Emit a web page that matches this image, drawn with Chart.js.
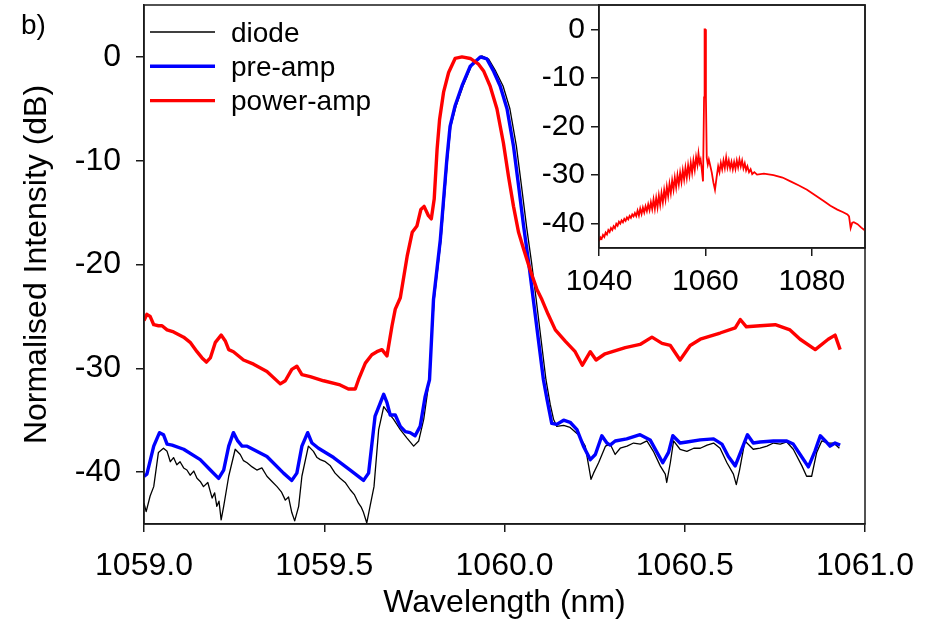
<!DOCTYPE html>
<html>
<head>
<meta charset="utf-8">
<script src="https://cdn.jsdelivr.net/npm/chart.js@4.4.1/dist/chart.umd.min.js"></script>
<style>
  html, body { margin: 0; padding: 0; background: #fff; }
  #wrap { position: relative; width: 929px; height: 622px; }
  #main { position: absolute; left: 0; top: 0; }
  #inset { position: absolute; left: 520px; top: 0; }
</style>
</head>
<body>
<div id="wrap">
  <canvas id="main" width="929" height="622"></canvas>
  <canvas id="inset" width="380" height="320"></canvas>
</div>
<script>
// ---- main panel data (wavelength nm, intensity dB) ----
const xTicks = [1059.0, 1059.5, 1060.0, 1060.5, 1061.0];
const yTicks = [-40, -30, -20, -10, 0];

const diodeWl = [1059.000, 1059.006, 1059.017, 1059.027, 1059.040, 1059.054, 1059.064, 1059.073, 1059.082, 1059.091, 1059.100, 1059.110,
  1059.119, 1059.128, 1059.138, 1059.147, 1059.156, 1059.165, 1059.177, 1059.189, 1059.196, 1059.202, 1059.208, 1059.214, 1059.221,
  1059.235, 1059.253, 1059.267, 1059.276, 1059.286, 1059.300, 1059.313, 1059.327, 1059.341, 1059.355, 1059.369, 1059.381, 1059.392,
  1059.401, 1059.410, 1059.418, 1059.429, 1059.438, 1059.456, 1059.470, 1059.480, 1059.489, 1059.503, 1059.517, 1059.530, 1059.544,
  1059.558, 1059.572, 1059.584, 1059.595, 1059.603, 1059.609, 1059.618, 1059.627, 1059.638, 1059.651, 1059.665, 1059.678, 1059.692,
  1059.711, 1059.729, 1059.748, 1059.762, 1059.776, 1059.789, 1059.805, 1059.824, 1059.842, 1059.851, 1059.866, 1059.885, 1059.908,
  1059.937, 1059.956, 1059.976, 1059.996, 1060.015, 1060.033, 1060.047, 1060.061, 1060.075, 1060.088, 1060.115, 1060.127, 1060.136,
  1060.145, 1060.164, 1060.182, 1060.205, 1060.224, 1060.233, 1060.240, 1060.247, 1060.261, 1060.280, 1060.293, 1060.307, 1060.321,
  1060.340, 1060.358, 1060.377, 1060.395, 1060.413, 1060.432, 1060.446, 1060.450, 1060.460, 1060.469, 1060.487, 1060.506, 1060.525,
  1060.543, 1060.562, 1060.580, 1060.598, 1060.617, 1060.635, 1060.643, 1060.652, 1060.667, 1060.690, 1060.709, 1060.728, 1060.746,
  1060.765, 1060.783, 1060.801, 1060.825, 1060.838, 1060.852, 1060.866, 1060.880, 1060.898, 1060.913, 1060.929];
const diodeDb = [-43.0, -43.8, -42.3, -41.4, -38.1, -37.7, -38.0, -39.0, -38.6, -39.3, -39.0, -39.6,
  -39.8, -40.3, -39.9, -40.6, -40.9, -41.4, -41.0, -42.5, -42.0, -43.3, -42.8, -44.6, -43.3,
  -40.4, -37.8, -38.3, -38.9, -39.1, -39.5, -39.8, -39.6, -40.4, -40.9, -41.4, -41.9, -42.7,
  -42.4, -43.9, -44.7, -43.3, -40.4, -37.5, -38.0, -38.6, -38.8, -39.0, -39.4, -40.1, -40.6,
  -41.0, -41.7, -42.2, -43.0, -43.4, -43.9, -44.9, -43.3, -41.4, -35.9, -33.7, -34.3, -34.9,
  -35.9, -36.7, -37.5, -37.0, -34.9, -31.7, -23.4, -17.6, -9.9, -6.7, -4.7, -2.8, -0.9,
  0.1, -0.2, -1.4, -2.8, -5.0, -8.6, -12.4, -16.3, -19.8, -23.4, -31.1, -33.5, -34.9,
  -35.6, -35.5, -35.7, -36.4, -37.5, -39.3, -40.7, -40.1, -39.1, -37.5, -37.3, -38.3, -37.7,
  -37.5, -37.2, -37.3, -37.0, -38.0, -39.4, -40.2, -41.0, -39.1, -37.0, -37.8, -38.0, -37.7,
  -37.7, -37.4, -37.2, -37.7, -39.1, -40.2, -41.2, -39.8, -37.0, -37.8, -37.7, -37.5, -37.2,
  -37.3, -37.1, -37.8, -39.4, -40.4, -40.4, -38.1, -37.0, -37.2, -37.2, -37.7];

const preAmpWl = [1059.000, 1059.008, 1059.027, 1059.043, 1059.054, 1059.064, 1059.078, 1059.110, 1059.156, 1059.184, 1059.207,
  1059.221, 1059.235, 1059.248, 1059.260, 1059.272, 1059.286, 1059.341, 1059.387, 1059.410, 1059.424, 1059.438, 1059.454,
  1059.466, 1059.484, 1059.526, 1059.572, 1059.609, 1059.623, 1059.641, 1059.665, 1059.674, 1059.683, 1059.697, 1059.711,
  1059.725, 1059.738, 1059.752, 1059.766, 1059.780, 1059.792, 1059.803, 1059.822, 1059.840, 1059.849, 1059.863, 1059.882,
  1059.905, 1059.933, 1059.951, 1059.970, 1059.988, 1060.007, 1060.025, 1060.039, 1060.053, 1060.067, 1060.080, 1060.108,
  1060.118, 1060.131, 1060.145, 1060.164, 1060.182, 1060.201, 1060.219, 1060.238, 1060.252, 1060.270, 1060.284, 1060.293,
  1060.307, 1060.339, 1060.376, 1060.404, 1060.423, 1060.439, 1060.455, 1060.467, 1060.487, 1060.506, 1060.543, 1060.580,
  1060.603, 1060.621, 1060.640, 1060.658, 1060.674, 1060.690, 1060.709, 1060.746, 1060.783, 1060.801, 1060.820, 1060.843,
  1060.861, 1060.876, 1060.890, 1060.903, 1060.917, 1060.931];
const preAmpDb = [-40.4, -40.2, -37.5, -36.2, -36.4, -37.3, -37.4, -37.8, -38.8, -39.8, -40.6,
  -39.8, -37.5, -36.2, -37.0, -37.5, -37.5, -38.5, -40.1, -40.8, -40.1, -37.5, -36.2,
  -37.2, -37.7, -38.6, -39.8, -40.8, -40.1, -34.6, -32.5, -33.3, -34.5, -34.5, -35.6,
  -36.1, -36.2, -36.5, -35.6, -32.7, -31.1, -23.4, -17.6, -9.9, -6.7, -4.7, -2.8,
  -0.9, 0.0, -0.2, -1.4, -2.8, -5.0, -8.6, -12.4, -16.3, -19.8, -23.4, -31.1,
  -33.0, -35.3, -35.4, -35.0, -35.2, -35.9, -37.5, -38.8, -38.3, -36.5, -37.2, -37.4,
  -37.0, -36.8, -36.4, -36.9, -38.1, -39.1, -38.1, -36.5, -37.2, -37.1, -36.9, -36.8,
  -37.3, -38.5, -39.4, -37.8, -36.4, -37.2, -37.1, -37.0, -37.0, -37.3, -38.3, -39.5,
  -38.0, -36.5, -37.0, -37.5, -37.2, -37.4];

const powerAmpWl = [1059.000, 1059.008, 1059.017, 1059.027, 1059.040, 1059.050, 1059.064, 1059.082, 1059.110, 1059.128, 1059.147,
  1059.161, 1059.173, 1059.184, 1059.198, 1059.214, 1059.226, 1059.235, 1059.248, 1059.276, 1059.304, 1059.341, 1059.378,
  1059.392, 1059.410, 1059.424, 1059.438, 1059.461, 1059.498, 1059.544, 1059.567, 1059.586, 1059.595, 1059.614, 1059.632,
  1059.646, 1059.660, 1059.674, 1059.688, 1059.697, 1059.711, 1059.730, 1059.744, 1059.757, 1059.768, 1059.777, 1059.789,
  1059.797, 1059.805, 1059.813, 1059.820, 1059.831, 1059.845, 1059.863, 1059.882, 1059.905, 1059.928, 1059.942, 1059.960,
  1059.979, 1059.997, 1060.011, 1060.025, 1060.039, 1060.053, 1060.071, 1060.090, 1060.104, 1060.121, 1060.141, 1060.169,
  1060.196, 1060.216, 1060.238, 1060.254, 1060.279, 1060.335, 1060.376, 1060.409, 1060.437, 1060.460, 1060.487, 1060.515,
  1060.543, 1060.598, 1060.640, 1060.654, 1060.671, 1060.709, 1060.751, 1060.792, 1060.820, 1060.862, 1060.898, 1060.917,
  1060.931];
const powerAmpDb = [-25.4, -24.8, -25.0, -25.8, -25.9, -25.9, -26.3, -26.5, -27.0, -27.5, -28.4,
  -29.0, -29.4, -29.0, -27.5, -26.8, -27.4, -28.2, -28.4, -29.2, -29.6, -30.3, -31.5,
  -31.2, -30.1, -29.8, -30.6, -30.8, -31.2, -31.6, -32.0, -32.0, -31.1, -29.5, -28.7,
  -28.4, -28.2, -28.8, -25.9, -24.3, -23.2, -19.2, -16.9, -16.3, -14.7, -14.4, -15.3,
  -15.6, -13.7, -8.9, -6.0, -3.4, -1.5, -0.15, 0.0, -0.15, -0.7, -1.35, -2.8,
  -5.0, -8.3, -11.5, -14.4, -16.9, -18.5, -20.5, -22.4, -23.4, -24.8, -26.3, -27.4,
  -28.4, -29.7, -28.4, -29.2, -28.6, -28.0, -27.7, -27.0, -27.6, -27.8, -29.2, -27.8,
  -27.2, -26.6, -26.1, -25.3, -26.0, -25.9, -25.8, -26.3, -27.2, -28.2, -27.2, -26.8,
  -28.2];

// ---- inset data (wide span) ----
const insetXTicks = [1040, 1060, 1080];
const insetYTicks = [-40, -30, -20, -10, 0];
const insetWl = [1040.00, 1040.25, 1040.50, 1040.75, 1041.00, 1041.25, 1041.50, 1041.75, 1042.00, 1042.25, 1042.50, 1042.75,
  1043.00, 1043.25, 1043.50, 1043.75, 1044.00, 1044.25, 1044.50, 1044.75, 1045.00, 1045.25, 1045.50, 1045.75,
  1046.00, 1046.25, 1046.50, 1046.75, 1047.00, 1047.25, 1047.50, 1047.75, 1048.00, 1048.25, 1048.50, 1048.75,
  1049.00, 1049.25, 1049.50, 1049.75, 1050.00, 1050.25, 1050.50, 1050.75, 1051.00, 1051.25, 1051.50, 1051.75,
  1052.00, 1052.25, 1052.50, 1052.75, 1053.00, 1053.25, 1053.50, 1053.75, 1054.00, 1054.25, 1054.50, 1054.75,
  1055.00, 1055.25, 1055.50, 1055.75, 1056.00, 1056.25, 1056.50, 1056.75, 1057.00, 1057.25, 1057.50, 1057.75,
  1058.00, 1058.25, 1058.50, 1058.70, 1058.90, 1059.10, 1059.30, 1059.55, 1059.75, 1059.85, 1059.95, 1060.10,
  1060.25, 1060.45, 1060.65, 1060.90, 1061.20, 1061.50, 1061.80, 1062.10, 1062.40, 1062.65, 1062.90, 1063.15,
  1063.40, 1063.65, 1063.90, 1064.15, 1064.40, 1064.65, 1064.90, 1065.15, 1065.40, 1065.65, 1065.90, 1066.15,
  1066.40, 1066.65, 1066.90, 1067.15, 1067.40, 1067.65, 1067.90, 1068.20, 1068.50, 1068.80, 1069.20, 1069.70,
  1071.00, 1072.80, 1074.50, 1076.00, 1077.50, 1079.10, 1080.70, 1082.30, 1083.50, 1084.80, 1085.80, 1086.70,
  1087.00, 1087.30, 1087.60, 1087.90, 1088.60, 1089.30, 1090.00];
const insetDb = [-43.6, -42.8, -43.1, -42.3, -42.7, -41.8, -42.2, -41.3, -41.7, -40.9, -41.3, -40.5,
  -40.9, -40.0, -40.4, -39.6, -40.0, -39.3, -39.7, -39.0, -39.4, -38.7, -39.1, -38.4,
  -38.8, -38.1, -38.5, -37.8, -38.4, -37.3, -38.3, -36.9, -38.0, -36.7, -37.7, -36.4,
  -37.4, -36.0, -37.2, -35.6, -37.0, -35.0, -36.9, -34.7, -36.6, -34.2, -36.1, -33.7,
  -35.6, -33.1, -35.0, -32.4, -34.3, -31.8, -33.7, -31.1, -33.0, -30.5, -32.5, -30.0,
  -31.9, -29.5, -31.4, -29.0, -30.9, -28.5, -30.5, -28.0, -30.0, -27.5, -29.5, -27.0,
  -28.9, -26.3, -27.9, -25.6, -27.5, -26.8, -28.6, -31.3, -14.0, 0.0, 0.0, -14.0,
  -26.4, -27.8, -26.8, -28.0, -29.5, -31.5, -33.0, -30.5, -28.2, -29.4, -27.5, -28.8,
  -27.0, -28.5, -26.4, -28.4, -27.0, -28.6, -27.3, -28.8, -27.3, -28.7, -27.0, -28.4,
  -26.8, -28.2, -27.0, -28.6, -27.6, -29.0, -28.2, -29.4, -28.8, -29.8, -29.4, -29.9,
  -29.7, -30.0, -30.5, -31.3, -32.1, -33.0, -34.2, -35.4, -36.3, -37.1, -37.6, -38.1,
  -38.5, -40.9, -39.8, -39.7, -40.1, -40.8, -41.4];

const FONT = '"Liberation Sans", Arial, sans-serif';
const AXIS = '#1a1a1a';

function pts(xs, ys) {
  return xs.map((x, i) => ({ x: x, y: ys[i] }));
}

// box round the plot area (top + right sides too)
const frame = {
  id: 'frame',
  afterDraw(chart) {
    const { ctx, chartArea: a } = chart;
    ctx.save();
    ctx.strokeStyle = AXIS;
    ctx.lineWidth = 1.5;
    ctx.strokeRect(a.left, a.top, a.right - a.left, a.bottom - a.top);
    ctx.restore();
  }
};

// legend inside the plot, top-left, plus the panel letter
const insideLegend = {
  id: 'insideLegend',
  afterDraw(chart) {
    const ctx = chart.ctx;
    ctx.save();
    ctx.fillStyle = '#000';
    ctx.font = '28px ' + FONT;
    ctx.textBaseline = 'alphabetic';
    ctx.fillText('b)', 21, 34);
    chart.data.datasets.forEach((ds, i) => {
      const y = 32 + i * 34.3;
      ctx.strokeStyle = ds.borderColor;
      ctx.lineWidth = ds.borderWidth;
      ctx.beginPath();
      ctx.moveTo(150, y);
      ctx.lineTo(215, y);
      ctx.stroke();
      ctx.fillText(ds.label, 231, y + 9.5);
    });
    ctx.restore();
  }
};

function axisOpts(o) {
  return {
    type: 'linear',
    min: o.min,
    max: o.max,
    afterBuildTicks: (s) => { s.ticks = o.ticks.map((v) => ({ value: v })); },
    afterFit: o.fit,
    ticks: {
      color: '#000',
      font: { family: FONT, size: o.size },
      padding: o.pad,
      autoSkip: false,
      maxRotation: 0,
      callback: o.fmt,
    },
    grid: { drawOnChartArea: false, drawTicks: true, tickLength: 8, color: AXIS, lineWidth: 1.5 },
    border: { display: true, color: AXIS, width: 1.5 },
    title: o.title ? {
      display: true, text: o.title, color: '#000',
      font: { family: FONT, size: 32 }, padding: o.titlePad,
    } : { display: false },
  };
}

new Chart(document.getElementById('main'), {
  type: 'line',
  data: {
    datasets: [
      { label: 'diode', data: pts(diodeWl, diodeDb), borderColor: '#000000', borderWidth: 1.3, order: 3 },
      { label: 'pre-amp', data: pts(preAmpWl, preAmpDb), borderColor: '#0000ff', borderWidth: 3.4, order: 2 },
      { label: 'power-amp', data: pts(powerAmpWl, powerAmpDb), borderColor: '#ff0000', borderWidth: 3.4, order: 1 },
    ],
  },
  options: {
    responsive: false,
    animation: false,
    devicePixelRatio: 1,
    parsing: false,
    elements: { point: { radius: 0 }, line: { tension: 0, borderJoinStyle: 'round' } },
    layout: { padding: { top: 5, right: 64, bottom: 0, left: 0 } },
    plugins: { legend: { display: false }, tooltip: { enabled: false } },
    scales: {
      x: axisOpts({
        min: 1059, max: 1061, ticks: xTicks, size: 32, pad: 15,
        fmt: (v) => Number(v).toFixed(1),
        fit: (s) => { s.height = 98; s.paddingLeft = 0; s.paddingRight = 0; },
        title: 'Wavelength (nm)', titlePad: { top: 0, bottom: 0 },
      }),
      y: axisOpts({
        min: -45, max: 5, ticks: yTicks, size: 32, pad: 15,
        fmt: (v) => String(v),
        fit: (s) => { s.width = 144; s.paddingTop = 0; s.paddingBottom = 0; },
        title: 'Normalised Intensity (dB)', titlePad: { top: 18, bottom: 0 },
      }),
    },
  },
  plugins: [frame, insideLegend],
});

new Chart(document.getElementById('inset'), {
  type: 'line',
  data: {
    datasets: [
      { label: 'power-amp', data: pts(insetWl, insetDb), borderColor: '#ff0000', borderWidth: 1.8 },
    ],
  },
  options: {
    responsive: false,
    animation: false,
    devicePixelRatio: 1,
    parsing: false,
    elements: { point: { radius: 0 }, line: { tension: 0 } },
    layout: { padding: { top: 5, right: 35, bottom: 0, left: 0 } },
    plugins: { legend: { display: false }, tooltip: { enabled: false } },
    scales: {
      x: axisOpts({
        min: 1040, max: 1090, ticks: insetXTicks, size: 30, pad: 8,
        fmt: (v) => String(v),
        fit: (s) => { s.height = 72; s.paddingLeft = 0; s.paddingRight = 0; },
      }),
      y: axisOpts({
        min: -45, max: 5, ticks: insetYTicks, size: 30, pad: 6,
        fmt: (v) => String(v),
        fit: (s) => { s.width = 79; s.paddingTop = 0; s.paddingBottom = 0; },
      }),
    },
  },
  plugins: [frame],
});
</script>
</body>
</html>
